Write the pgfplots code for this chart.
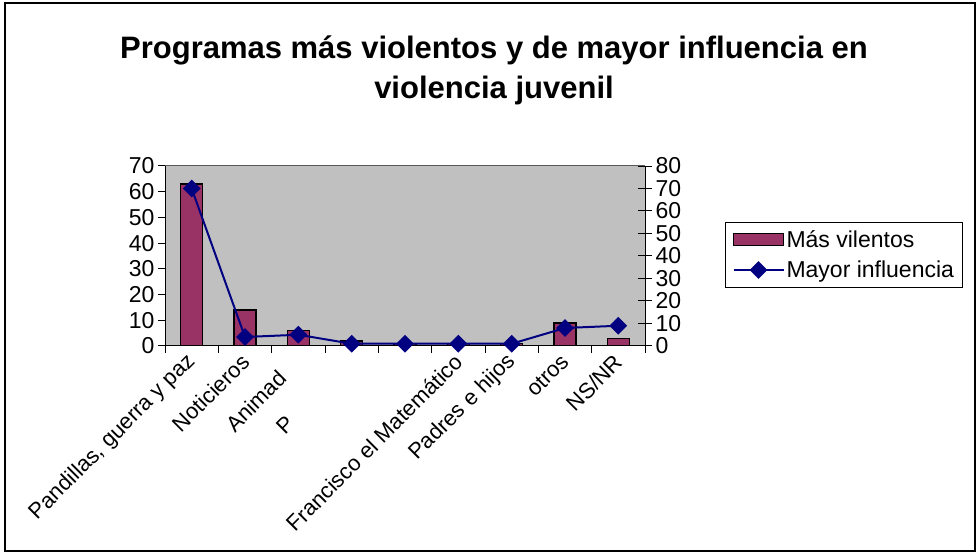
\documentclass[border=0pt]{standalone}
\usepackage{pgfplots}
\pgfplotsset{compat=1.18}
\usepackage{fontspec}
\setmainfont{Liberation Sans}
\definecolor{barc}{HTML}{993366}
\definecolor{linec}{HTML}{000080}
\definecolor{plotbg}{HTML}{C0C0C0}
\begin{document}
\begin{tikzpicture}[x=1pt,y=1pt]
\useasboundingbox (0,0) rectangle (979,556);
\fill[white] (0,0) rectangle (979,556);
\draw[black, line width=1.2pt] (5,5) rectangle (975,553);
\node[font=\bfseries\fontsize{31}{40}\selectfont, align=center] at (494,486) {Programas más violentos y de mayor influencia en\\violencia juvenil};
\begin{axis}[at={(165pt,210pt)}, anchor=south west, scale only axis,
  width=480pt, height=180pt,
  xmin=-0.5, xmax=8.5, ymin=0, ymax=70, ytick={0,10,...,70},
  axis x line*=bottom, axis y line*=left,
  axis line style={-, black, line width=1pt},
  axis background/.style={fill=plotbg},
  xtick={0,...,8},
  xticklabels={{Pandillas, guerra y paz},Noticieros,{Animad\phantom{os}},{P\phantom{elículasa}},{},{Francisco el Matemático},{Padres e hijos},otros,NS/NR},
  major x tick style={draw=none},
  minor xtick={-0.5,0.5,...,8.5},
  tick align=outside, major tick length=7pt, minor tick length=7pt,
  tick style={black, line width=1pt},
  /pgf/number format/assume math mode=true,
  yticklabel style={font=\fontsize{23}{26}\selectfont},
  xticklabel style={font=\fontsize{22}{25}\selectfont, rotate=45, anchor=east, yshift=-4pt},
  ]
\addplot[ybar, bar width=22pt, fill=barc, draw=black, line width=1.5pt]
  coordinates {(0,63) (1,14) (2,6) (3,2) (4,1) (5,1) (6,1) (7,9) (8,3)};
\draw[gray!70!black, line width=1pt] (rel axis cs:0,1) -- (rel axis cs:1,1);
\end{axis}
\begin{axis}[at={(165pt,210pt)}, anchor=south west, scale only axis,
  width=480pt, height=180pt,
  xmin=-0.5, xmax=8.5, ymin=0, ymax=80, ytick={0,10,...,80},
  axis x line=none, axis y line*=right,
  axis line style={-, black, line width=1pt},
  tick align=center, major tick length=14pt,
  tick style={black, line width=1pt},
  /pgf/number format/assume math mode=true,
  tick label style={font=\fontsize{23}{26}\selectfont},
  clip=false,
  legend style={at={(1.1667,0.689)}, anchor=north west, draw=black, fill=white,
    font=\fontsize{23}{26}\selectfont, line width=1pt, inner xsep=7pt, inner ysep=6pt,
    row sep=8pt,
    /tikz/every even column/.append style={column sep=2pt}},
  legend cell align=left,
  ]
\addlegendimage{legend image code/.code={\draw[fill=barc,draw=black,line width=1.5pt] (0pt,-6pt) rectangle (50pt,6pt);}}
\addlegendentry{Más vilentos}
\addplot[linec, line width=2pt, mark=square*, mark size=5.3pt, mark options={rotate=45, fill=linec, solid},
  legend image code/.code={\draw[mark repeat=2,mark phase=2] plot coordinates {(0pt,0pt) (25pt,0pt) (50pt,0pt)};}]
  coordinates {(0,70) (1,4) (2,5) (3,1) (4,1) (5,1) (6,1) (7,8) (8,9)};
\addlegendentry{Mayor influencia}
\end{axis}
\end{tikzpicture}
\end{document}
